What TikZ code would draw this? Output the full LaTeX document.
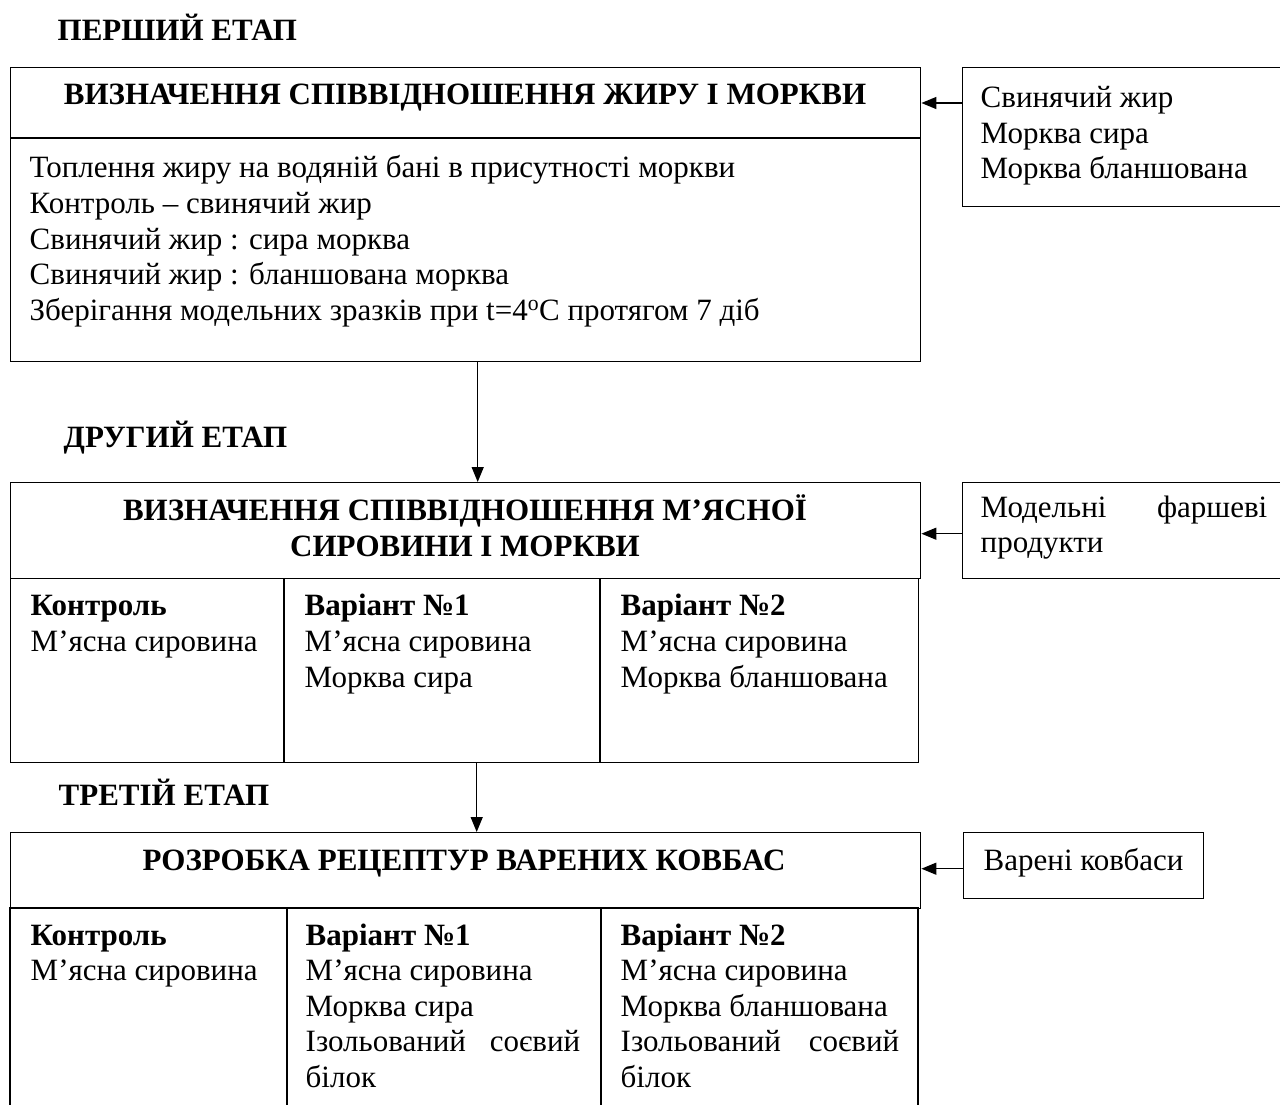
\documentclass[tikz,border=0pt]{standalone}
\usepackage{fontspec}
\setmainfont{Liberation Serif}
\usetikzlibrary{arrows.meta}
\begin{document}
\begin{tikzpicture}[x=1pt,y=-1pt, line width=1.4pt,
  txt/.style={font=\fontsize{31}{36}\selectfont, inner sep=0pt, anchor=base west},
  btxt/.style={font=\fontsize{31}{36}\selectfont\bfseries, inner sep=0pt, anchor=base west},
  ctxt/.style={font=\fontsize{31}{36}\selectfont\bfseries, inner sep=0pt, anchor=base},
  etxt/.style={font=\fontsize{31}{36}\selectfont, inner sep=0pt, anchor=base east},
  frame/.style={draw, line width=1.4pt, inner sep=0pt, anchor=north west},
  arr/.style={-{Triangle[length=15pt,width=12pt]}, line width=1.4pt}]
\useasboundingbox (0,0) rectangle (1280,1104);

% ---------- stage 1 ----------
\node[btxt] (s1) at (57,40) {ПЕРШИЙ ЕТАП};
\node[frame, minimum width=910pt, minimum height=294pt] (b1) at (10,67) {};
\draw (10,138) -- (920,138);
\node[ctxt] (h1) at (465,104) {ВИЗНАЧЕННЯ СПІВВІДНОШЕННЯ ЖИРУ І МОРКВИ};
\node[txt] (t11) at (29,177) {Топлення жиру на водяній бані в присутності моркви};
\node[txt] (t12) at (29,213) {Контроль – свинячий жир};
\node[txt] (t13) at (29,249) {Свинячий жир : сира морква};
\node[txt] (t14) at (29,284) {Свинячий жир : бланшована морква};
\node[txt] (t15) at (29,320) {Зберігання модельних зразків при t=4\textsuperscript{o}C протягом 7 діб};

\node[frame, minimum width=330pt, minimum height=139pt] (r1) at (962,67) {};
\node[txt] (r11) at (980,107) {Свинячий жир};
\node[txt] (r12) at (980,143) {Морква сира};
\node[txt] (r13) at (980,178) {Морква бланшована};
\coordinate (a1) at ([yshift=-36pt]r1.north west);
\draw[arr] (a1) -- (a1 -| b1.east);

% ---------- stage 2 ----------
\node[btxt] (s2) at (63,447) {ДРУГИЙ ЕТАП};
\node[frame, minimum width=910pt, minimum height=96pt] (b2) at (10,482) {};
\node[ctxt] (h21) at (465,520) {ВИЗНАЧЕННЯ СПІВВІДНОШЕННЯ М’ЯСНОЇ};
\node[ctxt] (h22) at (465,556) {СИРОВИНИ І МОРКВИ};
\node[frame, minimum width=908pt, minimum height=184pt] (b2c) at (10,578) {};
\draw (284,578) -- (284,762);
\draw (600,578) -- (600,762);
\node[btxt] (c21) at (30,615) {Контроль};
\node[txt]  (c22) at (30,651) {М’ясна сировина};
\node[btxt] (v11) at (304,615) {Варіант №1};
\node[txt]  (v12) at (304,651) {М’ясна сировина};
\node[txt]  (v13) at (304,687) {Морква сира};
\node[btxt] (v21) at (620,615) {Варіант №2};
\node[txt]  (v22) at (620,651) {М’ясна сировина};
\node[txt]  (v23) at (620,687) {Морква бланшована};

\node[frame, minimum width=330pt, minimum height=96pt] (r2) at (962,482) {};
\node[txt]  (r21) at (980,517) {Модельні};
\node[etxt] (r22) at (1268,517) {фаршеві};
\node[txt]  (r23) at (980,552) {продукти};
\coordinate (a2) at ([yshift=-3pt]r2.west);
\draw[arr] (a2) -- (a2 -| b2.east);

\draw[arr] ([xshift=12pt]b1.south) -- ([xshift=12pt]b1.south |- b2.north);

% ---------- stage 3 ----------
\node[btxt] (s3) at (58,805) {ТРЕТІЙ ЕТАП};
\node[frame, minimum width=910pt, minimum height=76pt] (b3) at (10,832) {};
\node[ctxt] (h3) at (464,870) {РОЗРОБКА РЕЦЕПТУР ВАРЕНИХ КОВБАС};
\draw (10,1120) -- (10,908) -- (918,908) -- (918,1120);
\draw (287,908) -- (287,1120);
\draw (601,908) -- (601,1120);
\node[btxt] (c31) at (30,945) {Контроль};
\node[txt]  (c32) at (30,980) {М’ясна сировина};
\node[btxt] (w11) at (305,945) {Варіант №1};
\node[txt]  (w12) at (305,980) {М’ясна сировина};
\node[txt]  (w13) at (305,1016) {Морква сира};
\node[txt]  (w14) at (305,1051) {Ізольований};
\node[etxt] (w15) at (581,1051) {соєвий};
\node[txt]  (w16) at (305,1087) {білок};
\node[btxt] (w21) at (620,945) {Варіант №2};
\node[txt]  (w22) at (620,980) {М’ясна сировина};
\node[txt]  (w23) at (620,1016) {Морква бланшована};
\node[txt]  (w24) at (620,1051) {Ізольований};
\node[etxt] (w25) at (900,1051) {соєвий};
\node[txt]  (w26) at (620,1087) {білок};

\node[frame, minimum width=240pt, minimum height=66pt] (r3) at (963,832) {};
\node[txt] (r31) at (983,870) {Варені ковбаси};
\coordinate (a3) at ([yshift=-3pt]r3.west);
\draw[arr] (a3) -- (a3 -| b3.east);

\draw[arr] ([xshift=12pt]b2c.south) -- ([xshift=12pt]b2c.south |- b3.north);
\end{tikzpicture}
\end{document}
